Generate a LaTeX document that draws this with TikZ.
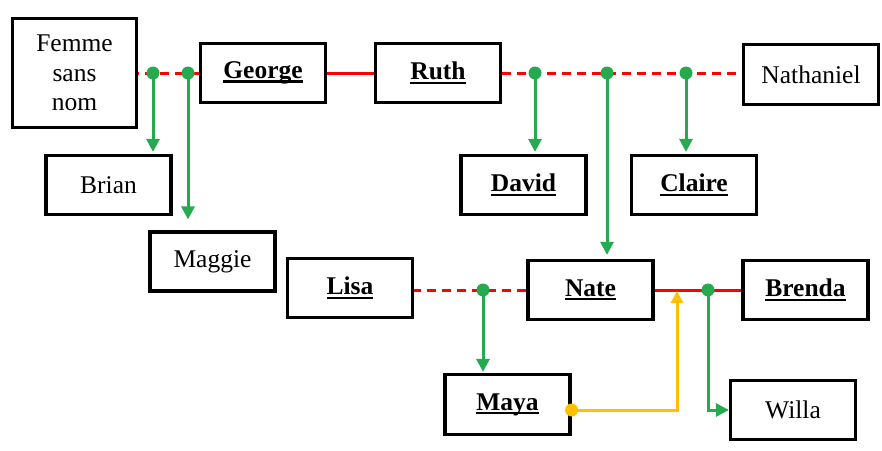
\documentclass[tikz,border=0pt]{standalone}
\usepackage{fontspec}
\setmainfont{Liberation Serif}
\usetikzlibrary{arrows.meta,calc}
\definecolor{lred}{RGB}{255,0,0}
\definecolor{lgreen}{RGB}{38,170,80}
\definecolor{lyellow}{RGB}{255,192,0}
\newcommand\nm[1]{\setbox0\hbox{\bfseries #1}\rlap{\rule[-4pt]{\wd0}{2.2pt}}\box0}
\begin{document}
\begin{tikzpicture}[x=1pt,y=-1pt,
  person/.style={draw=black,line width=3.2pt,minimum width=125pt,minimum height=59pt,inner sep=0pt,
    font=\fontsize{25.5}{29.5}\selectfont,align=center,fill=white},
  couple/.style={draw=lred,line width=3pt},
  partner/.style={couple,dash pattern=on 9pt off 6pt},
  child/.style={draw=lgreen,line width=3pt,-{Triangle[width=13pt,length=13pt]}},
  adopt/.style={draw=lyellow,line width=3pt,-{Triangle[width=12pt,length=12pt]}},
  gdot/.style={circle,fill=lgreen,inner sep=0pt,minimum size=13pt},
  ydot/.style={circle,fill=lyellow,inner sep=0pt,minimum size=13pt}]
\useasboundingbox (0,0) rectangle (882,450);
% people
\node[person,minimum width=124pt,minimum height=109pt] (fem) at (74.5,73) {Femme\\sans\\nom};
\node[person] (george) at (263,73) {\nm{George}};
\node[person] (ruth) at (438,73) {\nm{Ruth}};
\node[person,minimum width=135pt,minimum height=60pt] (nath) at (811,74.5) {Nathaniel};
\node[person] (brian) at (108.5,185) {Brian};
\node[person] (maggie) at (212.5,261.5) {Maggie};
\node[person] (david) at (523.5,185) {\nm{David}};
\node[person] (claire) at (694,185) {\nm{Claire}};
\node[person] (lisa) at (350,288) {\nm{Lisa}};
\node[person] (nate) at (590.5,290) {\nm{Nate}};
\node[person] (brenda) at (805.5,290) {\nm{Brenda}};
\node[person,minimum height=60pt] (maya) at (507.5,404.5) {\nm{Maya}};
\node[person] (willa) at (793,410) {Willa};
% junction points
\coordinate (j1) at (153,73);
\coordinate (j2) at (188,73);
\coordinate (j3) at (535,73);
\coordinate (j4) at (607,73);
\coordinate (j5) at (686,73);
\coordinate (j6) at (483,290);
\coordinate (j7) at (708,290);
\coordinate (ys) at ($(maya.east)+(0,5.5)$);
\coordinate (yt) at (677,291);
% couples
\draw[partner] (george.west) -- (george.west -| fem.east);
\draw[couple] (george.east) -- (george.east -| ruth.west);
\draw[partner] (ruth.east) -- (ruth.east -| nath.west);
\draw[partner] (nate.west) -- (nate.west -| lisa.east);
\draw[couple] (nate.east) -- (nate.east -| brenda.west);
% children
\draw[child,shorten >=2pt] (j1) -- (j1 |- brian.north);
\draw[child,shorten >=11pt] (j2) -- (j2 |- maggie.north);
\draw[child,shorten >=2pt] (j3) -- (j3 |- david.north);
\draw[child,shorten >=4pt] (j4) -- (j4 |- nate.north);
\draw[child,shorten >=2pt] (j5) -- (j5 |- claire.north);
\draw[child,shorten >=1pt] (j6) -- (j6 |- maya.north);
\draw[child] (j7) |- (willa.west);
\draw[adopt] (ys) -| (yt);
% dots
\foreach \j in {j1,j2,j3,j4,j5,j6,j7} \node[gdot] at (\j) {};
\node[ydot] at (ys) {};
\end{tikzpicture}
\end{document}
